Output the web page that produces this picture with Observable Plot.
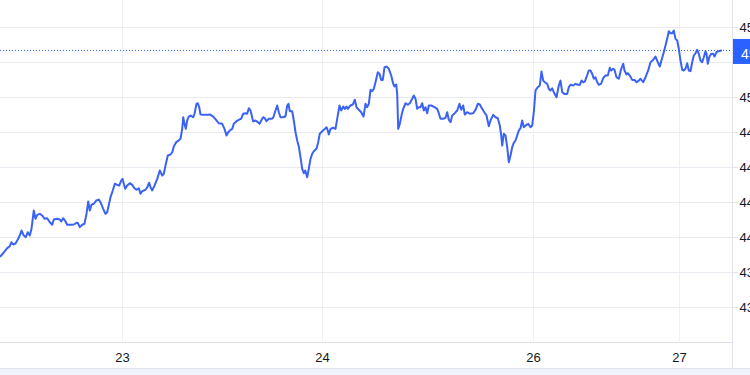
<!DOCTYPE html>
<html>
<head>
<meta charset="utf-8">
<script src="https://cdn.jsdelivr.net/npm/d3@7"></script>
<script src="https://cdn.jsdelivr.net/npm/@observablehq/plot@0.6"></script>
<style>
  html, body { margin: 0; padding: 0; background: #ffffff; overflow: hidden; }
  #wrap { width: 750px; height: 375px; position: relative; overflow: hidden; }
  #band { width: 750px; height: 6px; background: #f0f3fa; border-top: 1px solid #e0e3eb; }
  svg { display: block; }
</style>
</head>
<body>
<div id="wrap"><div id="chart"></div><div id="band"></div></div>
<script>
// bar position (session-time units) and price
const t = [0,3.3,6.7,9.3,11,12.7,15,17.3,19.3,21,23.3,25.3,27.3,29.3,31,33.3,35,36.7,39.3,41.7,44,46.7,49.3,51.7,53.3,56.7,59.3,60.7,62.7,65,66.7,70,73.3,76,77.3,79.3,81.7,84,86,87.7,89.3,91,93.3,95.7,98.3,100,102.7,105,106.7,110,112.3,114.3,116.7,118.7,120.7,122,
124.7,126.7,129.3,131.7,134,136,138.3,140,141.7,145,146.7,148.7,150,151.7,154,156.7,159.3,161.7,163.3,165,167.3,170,171.7,173.3,175.7,177.3,180,181.7,182.7,184,185.3,186.7,188.3,190,192.7,194,196,197.3,198.7,200,203.3,206.7,209.3,212.7,216,218.3,221.7,224,226,227.7,230,231.7,233.3,236,238.3,
240.7,
242.7,245,246.7,248.3,250,252.7,255,257.3,259,260.7,262.7,264,266,268.3,271,272.7,275,276.7,278.3,280,282.7,285,286.7,288,289.3,291.7,293.3,295,296.7,298.3,300,301.7,303.3,304.7,306.7,308.3,310,311.7,313.3,316,317.7,319.3,321.7,323.3,326,327.3,328.3,330,332.7,335,336.7,339,340.7,342.7,344.3,346,347.3,350,352.3,354.3,356,358.3,360.7,
363,
365,366.7,368.3,370,371.7,373.3,375,377.3,379,380.7,382.3,384,386,388.3,390.7,392.7,394,395.7,396.7,397.7,399.3,401,402.7,405,407.3,409.3,411.7,413.3,415,416.7,418.3,420,421.7,423.3,425,426.7,428.3,430.7,434,436.7,438.3,440,442.7,445,446.7,448.3,450,451.7,454.3,456.7,459,460.7,462.7,464.3,466.7,469.3,472.7,475,477.3,479.3,480.7,
482.7,
486,488.3,490,492.7,495,497.3,499.3,500.7,501.7,503.3,505,506.7,508.3,510,511.7,513.3,515,516.7,518.3,520,521.7,523.3,526,527.7,530,531.7,533.3,535,537.3,539.3,541,542.7,544.3,546.7,548.3,550,551.7,553.3,556,558.3,560,561.7,564,566.7,568.3,570,572.7,575,577.3,579.3,581,582.7,584.3,586,588.3,590,591.7,593.3,595,596.7,598.3,
600.7,
602.7,605,607.3,609.3,610.7,612.7,614,616,618.3,620.7,622.7,624,626,627.3,629.3,631.7,634,636,638.3,640,642.7,645,647.7,650,652.7,655,657.3,659.3,661.7,663.3,665,666.7,668.3,670,671.7,673.3,675,676.7,678.3,680,681.7,683.3,685,686.7,688.3,690,691.7,693.3,695,696.7,698.3,700,701.7,703.3,705,706,707.3,709,710.7,712.7,714,716,718.3,720.7];

const price = [4386.6,4389.3,4392.4,4393.8,4396.6,4395.0,4395.7,4398.6,4401.4,4405.0,4401.4,4400.2,4403.8,4401.4,4406.2,4419.3,4413.4,4416.2,4416.9,4415.7,4413.4,4413.8,4410.9,4409.1,4412.9,4413.4,4412.9,4411.4,4413.8,4411.4,4409.1,4409.1,4409.3,4410.5,4410.5,4407.4,4409.1,4409.8,4416.9,4425.7,4419.3,4423.4,4424.1,4426.4,4427.1,4425.2,4420.5,4416.9,4418.1,4428.8,4433.6,4438.4,4437.6,4437.1,4440.7,4441.9,
4434.8,4437.1,4438.8,4437.6,4435.2,4434.1,4435.2,4431.2,4433.1,4434.1,4435.9,4439.1,4435.9,4433.6,4437.1,4441.9,4447.9,4444.3,4445.5,4451.4,4458.6,4459.3,4460.9,4465.0,4468.1,4468.8,4470.5,4477.6,4485.9,4481.2,4477.6,4483.6,4486.4,4487.1,4485.9,4488.4,4495.5,4495.9,4493.1,4487.9,4487.6,4487.6,4487.9,4486.4,4483.6,4481.6,4481.2,4477.6,4472.9,4475.2,4476.9,4477.6,4481.2,4483.1,4484.1,
4485.0,
4488.4,4488.8,4488.4,4492.4,4490.7,4482.9,4483.6,4482.4,4481.2,4483.6,4485.9,4485.5,4483.1,4484.8,4484.8,4485.5,4490.7,4494.3,4489.5,4485.9,4485.9,4486.6,4494.3,4495.5,4490.2,4490.2,4483.6,4475.2,4469.3,4465.0,4457.4,4449.1,4445.9,4447.9,4443.1,4449.1,4456.2,4459.8,4461.6,4463.4,4468.1,4474.1,4475.9,4476.9,4478.8,4476.4,4473.6,4477.6,4478.4,4477.6,4484.8,4494.3,4490.7,4493.6,4491.9,4493.6,4491.9,4494.3,4495.0,4498.4,4493.1,4491.2,4489.5,
4486.4,
4495.5,4493.1,4495.5,4505.5,4504.5,4506.2,4510.9,4518.1,4516.9,4512.6,4512.6,4521.6,4522.1,4520.5,4515.7,4509.8,4507.9,4509.3,4502.6,4477.6,4481.2,4487.1,4491.9,4495.9,4494.8,4495.9,4499.1,4501.4,4499.1,4491.9,4493.1,4493.1,4495.9,4490.7,4493.1,4488.8,4494.3,4494.3,4493.1,4491.9,4488.8,4484.8,4484.8,4485.5,4489.5,4484.1,4482.4,4487.1,4488.8,4490.7,4495.5,4491.2,4494.3,4487.9,4489.5,4488.4,4488.8,4491.2,4495.5,4495.0,4493.1,
4490.7,
4487.1,4479.5,4483.6,4487.6,4485.9,4485.2,4480.0,4472.9,4465.7,4474.1,4472.9,4464.5,4453.8,4458.6,4464.5,4467.6,4469.3,4472.9,4476.4,4478.1,4483.6,4478.8,4480.5,4481.2,4478.8,4480.0,4489.5,4505.0,4507.4,4508.6,4518.6,4512.1,4510.9,4509.8,4506.2,4505.0,4506.6,4503.8,4500.2,4508.6,4512.1,4503.8,4502.6,4502.6,4507.4,4509.1,4508.6,4509.8,4509.1,4509.1,4512.1,4510.9,4511.4,4514.5,4519.3,4519.3,4516.9,4513.4,4514.5,4510.9,4509.1,
4510.0,
4513.9,4515.7,4515.7,4521.2,4519.3,4520.5,4519.8,4514.5,4513.4,4520.5,4524.1,4519.3,4516.4,4517.4,4515.7,4512.6,4512.6,4510.9,4512.1,4513.4,4510.9,4514.5,4519.3,4525.2,4526.9,4529.3,4525.2,4522.1,4528.4,4532.4,4537.1,4541.9,4547.4,4545.9,4545.9,4547.9,4541.9,4540.7,4534.8,4526.4,4519.8,4519.3,4520.5,4524.5,4519.3,4518.8,4525.2,4530.0,4531.6,4534.1,4531.2,4526.4,4525.2,4528.8,4533.1,4531.2,4524.1,4529.3,4531.2,4531.2,4529.3,4532.4,4533.1,4533.6];

const dayTicks = [122, 322, 533, 679];
const dayLabels = ["23", "24", "26", "27"];
const priceTicks = [4350, 4375, 4400, 4425, 4450, 4475, 4500, 4525, 4550];
const xDomain = [0, 732];
const yDomain = [4325, 4569.3];

const data = t.map((d, i) => ({t: d, v: price[i]}));
const last = price[price.length - 1];

const BLUE = "#3a62f5";
const FONT = "'Liberation Sans', Arial, sans-serif";

// price-scale labels hidden under the last-price badge are not drawn
const labelTicks = priceTicks.filter(d => Math.abs(d - last) > 12);

const chart = Plot.plot({
  width: 750,
  height: 368,
  marginLeft: 0,
  marginRight: 18,
  marginTop: 0,
  marginBottom: 26,
  style: {fontFamily: FONT, fontSize: "13px", color: "#131722", background: "#ffffff", overflow: "visible"},
  x: {domain: xDomain, label: null},
  y: {domain: yDomain, label: null},
  marks: [
    Plot.gridX(dayTicks, {stroke: "#eef0f4", strokeOpacity: 1}),
    Plot.gridY(priceTicks, {stroke: "#e9ebf0", strokeOpacity: 1}),
    Plot.ruleY([yDomain[0]], {stroke: "#e0e3eb"}),
    Plot.axisY(priceTicks, {anchor: "right", label: null, tickSize: 5, text: null, stroke: "#e0e3eb"}),
    Plot.axisY(labelTicks, {anchor: "right", label: null, tickSize: 0, tickPadding: 7, fill: "#131722",
      tickFormat: d => d.toFixed(2), fontSize: 13}),
    Plot.axisX(dayTicks, {anchor: "bottom", label: null, tickSize: 0, tickPadding: 10, fill: "#131722", fontSize: 13,
      tickFormat: d => dayLabels[dayTicks.indexOf(d)]}),
    Plot.ruleY([last], {stroke: "#2962ff", strokeDasharray: "1,2", strokeWidth: 1}),
    Plot.line(data, {x: "t", y: "v", stroke: BLUE, strokeWidth: 2, strokeLinejoin: "round"})
  ]
});

document.getElementById("chart").appendChild(chart);

// price-scale separator and last-price badge
const svg = d3.select(chart);
const yPos = chart.scale("y").apply(last);
svg.append("line").attr("x1", 732.5).attr("x2", 732.5).attr("y1", 0).attr("y2", 368)
  .attr("stroke", "#e0e3eb");
svg.append("rect").attr("x", 733).attr("y", yPos - 11).attr("width", 40).attr("height", 25)
  .attr("fill", "#2962ff").attr("stroke", "none");
svg.append("text").attr("x", 741).attr("y", yPos + 4).attr("dy", "0.35em")
  .attr("text-anchor", "start")
  .attr("fill", "#ffffff").attr("font-size", 14).attr("font-family", FONT)
  .text(last.toFixed(2));
</script>
</body>
</html>
